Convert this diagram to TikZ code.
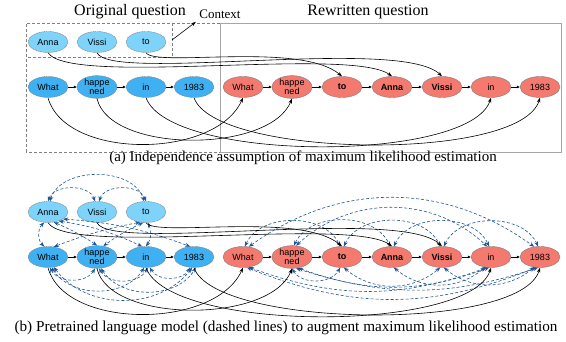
\documentclass[tikz,border=0pt]{standalone}
\usepackage{fontspec}
\setmainfont{Liberation Serif}
\setsansfont{Liberation Sans}
\usepackage{xcolor}
\usepackage{tikz}
\usetikzlibrary{shapes.geometric, arrows.meta}

\definecolor{ctxblue}{RGB}{125,211,249}
\definecolor{srcblue}{RGB}{63,176,242}
\definecolor{tgtred}{RGB}{244,121,111}
\definecolor{lmblue}{RGB}{31,84,150}

\tikzset{
  tok/.style={ellipse, minimum width=40pt, minimum height=21pt, inner sep=0pt,
    align=center, font=\sffamily\fontsize{9}{9.5}\selectfont},
  ctx/.style={tok, fill=ctxblue, draw=gray, dash pattern=on 1.2pt off 0.6pt},
  src/.style={tok, fill=srcblue, draw=gray, dash pattern=on 1.2pt off 0.6pt},
  tgt/.style={tok, fill=tgtred, draw=gray},
  chain/.style={-{Latex[length=3pt,width=3pt]}, thin},
  mle/.style={-{Stealth[length=5pt,width=3.5pt]}, semithick},
  lm/.style={{Stealth[length=5pt,width=4pt]}-{Stealth[length=5pt,width=4pt]}, lmblue, semithick, dash pattern=on 3pt off 2pt},
}

\begin{document}
\begin{tikzpicture}[x=1pt, y=1pt]
        \useasboundingbox (0,0) rectangle (566,342);

        % (a) Independence assumption
        \draw[gray, densely dashed] (26,190) rectangle (220,319);
        \draw[gray, densely dashed] (26,285) rectangle (172,319);
        \draw[gray!70, thick] (220,190) rectangle (561,319);
        \node (origtitle) at (130,330) {\fontsize{16}{18}\selectfont Original question};
        \node (rewtitle) at (368,330) {\fontsize{16}{18}\selectfont Rewritten question};
        \node (ctxlab) at (220,328) {\fontsize{13}{15}\selectfont Context};
        \coordinate (ctxedge) at (172,302);
        \draw[mle] (ctxedge) -- (ctxlab.south west);

        \node[ctx] (aAnna) at (48,300) {Anna};
        \node[ctx] (aVissi) at (97,300) {Vissi};
        \node[ctx] (aTo) at (146,300) {to};
        \node[src] (aWhat) at (48,255) {What};
        \node[src] (aHap) at (97,255) {happe\\ned};
        \node[src] (aIn) at (146,255) {in};
        \node[src] (aYear) at (194,255) {1983};
        \node[tgt] (aRWhat) at (243,255) {What};
        \node[tgt] (aRHap) at (292,255) {happe\\ned};
        \node[tgt] (aRTo) at (342,255) {\bfseries to};
        \node[tgt] (aRAnna) at (392,255) {\bfseries Anna};
        \node[tgt] (aRVissi) at (442,255) {\bfseries Vissi};
        \node[tgt] (aRIn) at (491,255) {in};
        \node[tgt] (aRYear) at (540,255) {1983};

        \draw[chain] (aWhat) -- (aHap);
        \draw[chain] (aHap) -- (aIn);
        \draw[chain] (aIn) -- (aYear);
        \draw[chain] (aRWhat) -- (aRHap);
        \draw[chain] (aRHap) -- (aRTo);
        \draw[chain] (aRTo) -- (aRAnna);
        \draw[chain] (aRAnna) -- (aRVissi);
        \draw[chain] (aRVissi) -- (aRIn);
        \draw[chain] (aRIn) -- (aRYear);

        \draw[mle] (aAnna.south) .. controls +(22,-34) and +(-42,30) .. (aRAnna.north);
        \draw[mle] (aVissi.south) .. controls +(13,-30) and +(-42,40) .. (aRVissi.north);
        \draw[mle] (aTo.south) .. controls +(9,-15) and +(-42,35) .. (aRTo.north);
        \draw[mle] (aWhat.south) .. controls +(17,-62) and +(-28,-62) .. (aRWhat.south);
        \draw[mle] (aHap.south) .. controls +(13,-55) and +(-22,-55) .. (aRHap.south);
        \draw[mle] (aIn.south) .. controls +(24,-65) and +(-21,-65) .. (aRIn.south);
        \draw[mle] (aYear.south) .. controls +(21,-60) and +(-20,-65) .. (aRYear.south);

        \node (capa) at (303,184) {\fontsize{15}{17}\selectfont (a) Independence assumption of maximum likelihood estimation};

        % (b) Pretrained language model
        \node[ctx] (bAnna) at (48,130) {Anna};
        \node[ctx] (bVissi) at (97,130) {Vissi};
        \node[ctx] (bTo) at (146,130) {to};
        \node[src] (bWhat) at (48,85) {What};
        \node[src] (bHap) at (97,85) {happe\\ned};
        \node[src] (bIn) at (146,85) {in};
        \node[src] (bYear) at (194,85) {1983};
        \node[tgt] (bRWhat) at (243,85) {What};
        \node[tgt] (bRHap) at (292,85) {happe\\ned};
        \node[tgt] (bRTo) at (342,85) {\bfseries to};
        \node[tgt] (bRAnna) at (392,85) {\bfseries Anna};
        \node[tgt] (bRVissi) at (442,85) {\bfseries Vissi};
        \node[tgt] (bRIn) at (491,85) {in};
        \node[tgt] (bRYear) at (540,85) {1983};

        \draw[chain] (bWhat) -- (bHap);
        \draw[chain] (bHap) -- (bIn);
        \draw[chain] (bIn) -- (bYear);
        \draw[chain] (bRWhat) -- (bRHap);
        \draw[chain] (bRHap) -- (bRTo);
        \draw[chain] (bRTo) -- (bRAnna);
        \draw[chain] (bRAnna) -- (bRVissi);
        \draw[chain] (bRVissi) -- (bRIn);
        \draw[chain] (bRIn) -- (bRYear);

        % dashed: context and original question
        \draw[lm] (bAnna.north) to[bend left=70] (bVissi.100);
        \draw[lm] (bVissi.80) to[bend left=70] (bTo.north);
        \draw[lm] (bAnna.80) to[bend left=72] (bTo.100);
        \draw[lm] (bAnna.-110) to[bend right=45] (bWhat.110);
        \draw[lm] (bAnna.-60) to[bend left=5] (bHap.north);
        \draw[lm] (bAnna.-40) to[bend left=8] (bIn.110);
        \draw[lm] (bAnna.-25) to[bend left=8] (bYear.110);
        \draw[lm] (bTo.-120) to[bend right=5] (bWhat.60);
        \draw[lm] (bTo.-105) to[bend right=5] (bHap.60);
        \draw[lm] (bTo.-80) to[bend left=30] (bIn.north);
        \draw[lm] (bWhat.-80) to[bend right=60] (bHap.-100);
        \draw[lm] (bWhat.-70) to[bend right=58] (bIn.-100);
        \draw[lm] (bWhat.-60) to[bend right=53] (bYear.-100);
        \draw[lm] (bHap.-80) to[bend right=60] (bIn.-80);
        \draw[lm] (bHap.-70) to[bend right=58] (bYear.-80);
        \draw[lm] (bIn.-70) to[bend right=60] (bYear.-110);

        % dashed: rewritten question
        \draw[lm] (bRWhat.80) to[bend left=65] (bRTo.100);
        \draw[lm] (bRHap.80) to[bend left=65] (bRAnna.100);
        \draw[lm] (bRTo.80) to[bend left=65] (bRVissi.100);
        \draw[lm] (bRAnna.80) to[bend left=65] (bRIn.100);
        \draw[lm] (bRVissi.80) to[bend left=65] (bRYear.100);
        \draw[lm] (bRHap.70) to[bend left=43] (bRIn.110);
        \draw[lm] (bRWhat.60) to[bend left=36] (bRYear.120);
        \draw[lm] (bRWhat.-60) to[bend right=20] (bRIn.-110);
        \draw[lm] (bRWhat.-70) to[bend right=22] (bRYear.-110);
        \draw[lm] (bRHap.-70) to[bend right=18] (bRYear.-100);
        \draw[lm] (bRHap.-60) to[bend right=20] (bRIn.-100);
        \draw[lm] (bRHap.-90) to[bend right=60] (bRTo.-100);
        \draw[lm] (bRTo.-80) to[bend right=40] (bRVissi.-100);
        \draw[lm] (bRAnna.-80) to[bend right=40] (bRIn.-120);
        \draw[lm] (bRVissi.-80) to[bend right=40] (bRYear.-120);

        % solid: maximum likelihood
        \draw[mle] (bAnna.south) .. controls +(22,-34) and +(-42,30) .. (bRAnna.north);
        \draw[mle] (bVissi.south) .. controls +(13,-30) and +(-42,40) .. (bRVissi.north);
        \draw[mle] (bTo.south) .. controls +(9,-15) and +(-42,35) .. (bRTo.north);
        \draw[mle] (bWhat.south) .. controls +(17,-62) and +(-28,-62) .. (bRWhat.south);
        \draw[mle] (bHap.south) .. controls +(13,-55) and +(-22,-55) .. (bRHap.south);
        \draw[mle] (bIn.south) .. controls +(24,-65) and +(-21,-65) .. (bRIn.south);
        \draw[mle] (bYear.south) .. controls +(21,-60) and +(-20,-65) .. (bRYear.south);

        \node (capb) at (286,14) {\fontsize{15.2}{17}\selectfont (b) Pretrained language model (dashed lines) to augment maximum likelihood estimation};
    \end{tikzpicture}
\end{document}
